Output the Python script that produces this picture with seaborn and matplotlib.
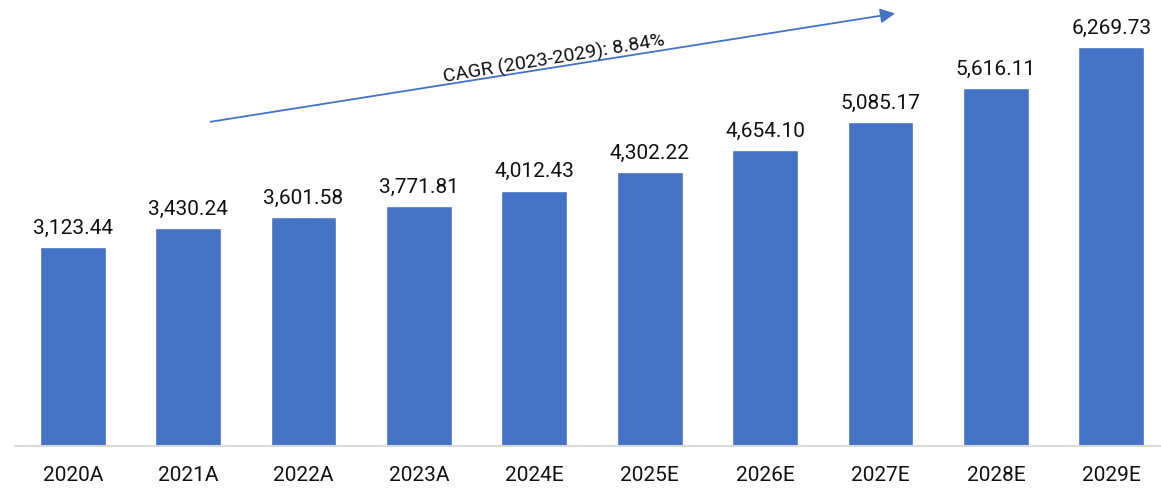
import numpy as np
import pandas as pd
import matplotlib
matplotlib.use('Agg')
import matplotlib.pyplot as plt
import seaborn as sns

# data
years = ["2020A", "2021A", "2022A", "2023A", "2024E",
         "2025E", "2026E", "2027E", "2028E", "2029E"]
values = [3123.44, 3430.24, 3601.58, 3771.81, 4012.43,
          4302.22, 4654.10, 5085.17, 5616.11, 6269.73]
cagr_label = "CAGR (2023-2029): 8.84%"

df = pd.DataFrame({"Year": years, "Value": values})

sns.set_style("white")
plt.rcParams['font.family'] = ['Roboto', 'DejaVu Sans']

fig = plt.figure(figsize=(11.61, 4.89), dpi=100)
ax = fig.add_axes([15 / 1161, 42 / 489, 1154 / 1161, 447 / 489])

sns.barplot(data=df, x="Year", y="Value", color="#4472C4", width=0.57,
            saturation=1, ax=ax)

# value labels above bars
for i, v in enumerate(values):
    ax.text(i, v + 160, f"{v:,.2f}", ha="center", va="bottom",
            fontsize=15, color="#111111")

ax.set_xlim(-0.5, 9.5)
ax.set_ylim(0, 7020)
ax.set_xlabel("")
ax.set_ylabel("")
ax.set_yticks([])
ax.tick_params(axis="x", length=0, pad=14, labelsize=15, labelcolor="#111111")

for s in ["top", "right", "left"]:
    ax.spines[s].set_visible(False)
ax.spines["bottom"].set_color("#d9d9d9")
ax.spines["bottom"].set_linewidth(1.5)

# CAGR arrow
ax.annotate("", xy=(7.15, 6800), xytext=(1.17, 5085),
            arrowprops=dict(arrowstyle="-|>", color="#4472C4", lw=1.3,
                            mutation_scale=22))
ax.text(4.17, 6100, cagr_label, rotation=9.5, ha="center", va="center",
        fontsize=14, color="#111111", rotation_mode="anchor")

plt.savefig("out.png", dpi=100)
